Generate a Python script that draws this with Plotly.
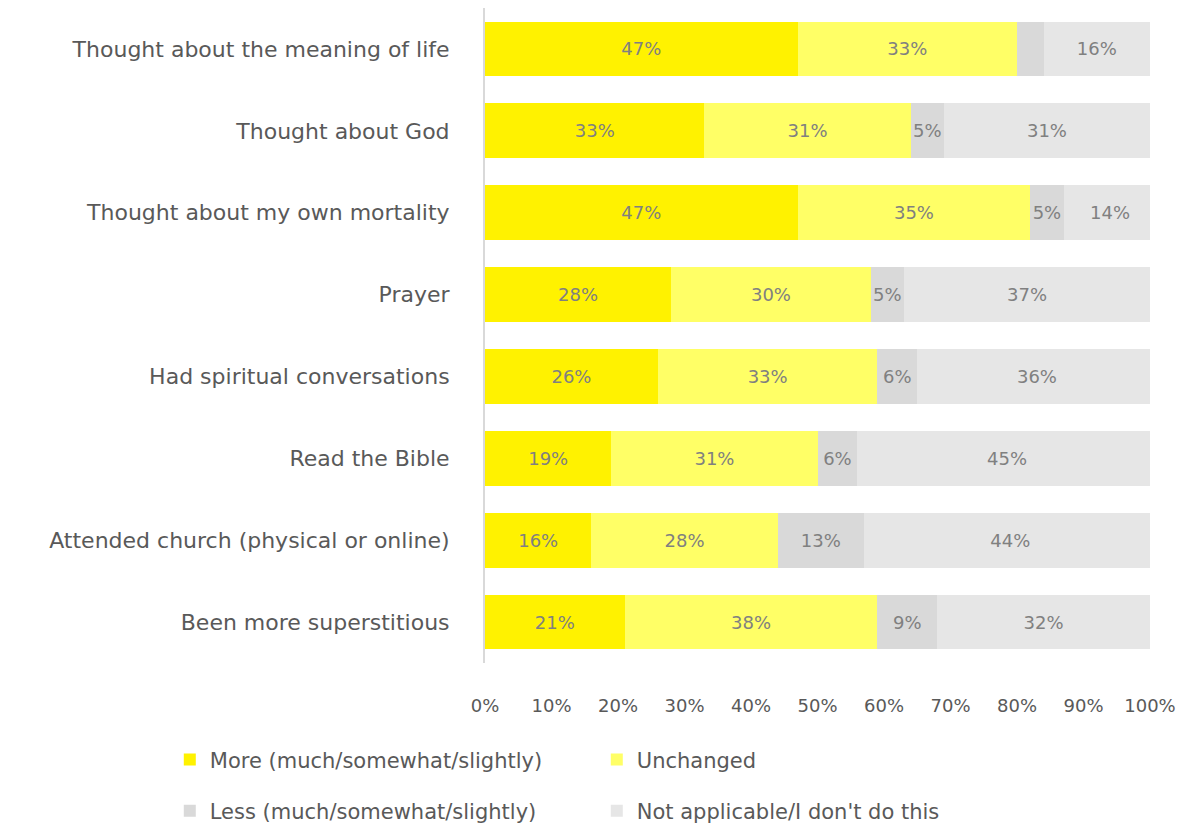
import plotly.graph_objects as go

categories = [
    "Thought about the meaning of life",
    "Thought about God",
    "Thought about my own mortality",
    "Prayer",
    "Had spiritual conversations",
    "Read the Bible",
    "Attended church (physical or online)",
    "Been more superstitious",
]
more = [47, 33, 47, 28, 26, 19, 16, 21]
unchanged = [33, 31, 35, 30, 33, 31, 28, 38]
less = [4, 5, 5, 5, 6, 6, 13, 9]
not_applicable = [16, 31, 14, 37, 36, 45, 44, 32]

series_names = [
    "More (much/somewhat/slightly)",
    "Unchanged",
    "Less (much/somewhat/slightly)",
    "Not applicable/I don't do this",
]
colors = ["#FFF200", "#FFFF66", "#D9D9D9", "#E6E6E6"]
label_min = 5  # values below this are not labelled

FONT = "DejaVu Sans"
fig = go.Figure()
for i, (name, vals, col) in enumerate(zip(series_names, [more, unchanged, less, not_applicable], colors)):
    fig.add_trace(go.Bar(
        y=categories, x=vals, name=name, orientation="h",
        marker=dict(color=col, line=dict(width=0)),
        text=[f"{v}%" if v >= label_min else "" for v in vals],
        textposition="inside", insidetextanchor="middle", textangle=0,
        constraintext="none",
        textfont=dict(family=FONT, size=18, color="#808080"),
        legend="legend" if i < 2 else "legend2",
        hoverinfo="skip",
    ))

fig.update_layout(
    barmode="stack",
    bargap=0.33,
    width=1184, height=828,
    margin=dict(l=485, r=34, t=8, b=165, autoexpand=False),
    paper_bgcolor="white", plot_bgcolor="white",
    font=dict(family=FONT, color="#595959", size=18),
    showlegend=True,
    legend=dict(orientation="h", x=-0.474, xanchor="left", y=-0.148, yanchor="middle",
                font=dict(family=FONT, size=21, color="#595959"),
                entrywidth=382, entrywidthmode="pixels", traceorder="normal"),
    legend2=dict(orientation="h", x=-0.474, xanchor="left", y=-0.226, yanchor="middle",
                 font=dict(family=FONT, size=21, color="#595959"),
                 entrywidth=382, entrywidthmode="pixels", traceorder="normal"),
)
fig.update_xaxes(range=[0, 100], tickvals=list(range(0, 101, 10)),
                 ticktext=[f"{v}%" for v in range(0, 101, 10)],
                 showgrid=False, zeroline=False, showline=False, automargin=False,
                 ticks="outside", ticklen=26, tickcolor="rgba(0,0,0,0)",
                 tickfont=dict(family=FONT, size=18, color="#595959"))
fig.update_yaxes(categoryorder="array", categoryarray=categories, autorange="reversed",
                 showgrid=False, zeroline=False, showline=True, linecolor="#D9D9D9", linewidth=2,
                 automargin=False,
                 ticks="outside", ticklen=29, tickcolor="rgba(0,0,0,0)",
                 tickfont=dict(family=FONT, size=22, color="#595959"))

fig.write_html("out.html")
